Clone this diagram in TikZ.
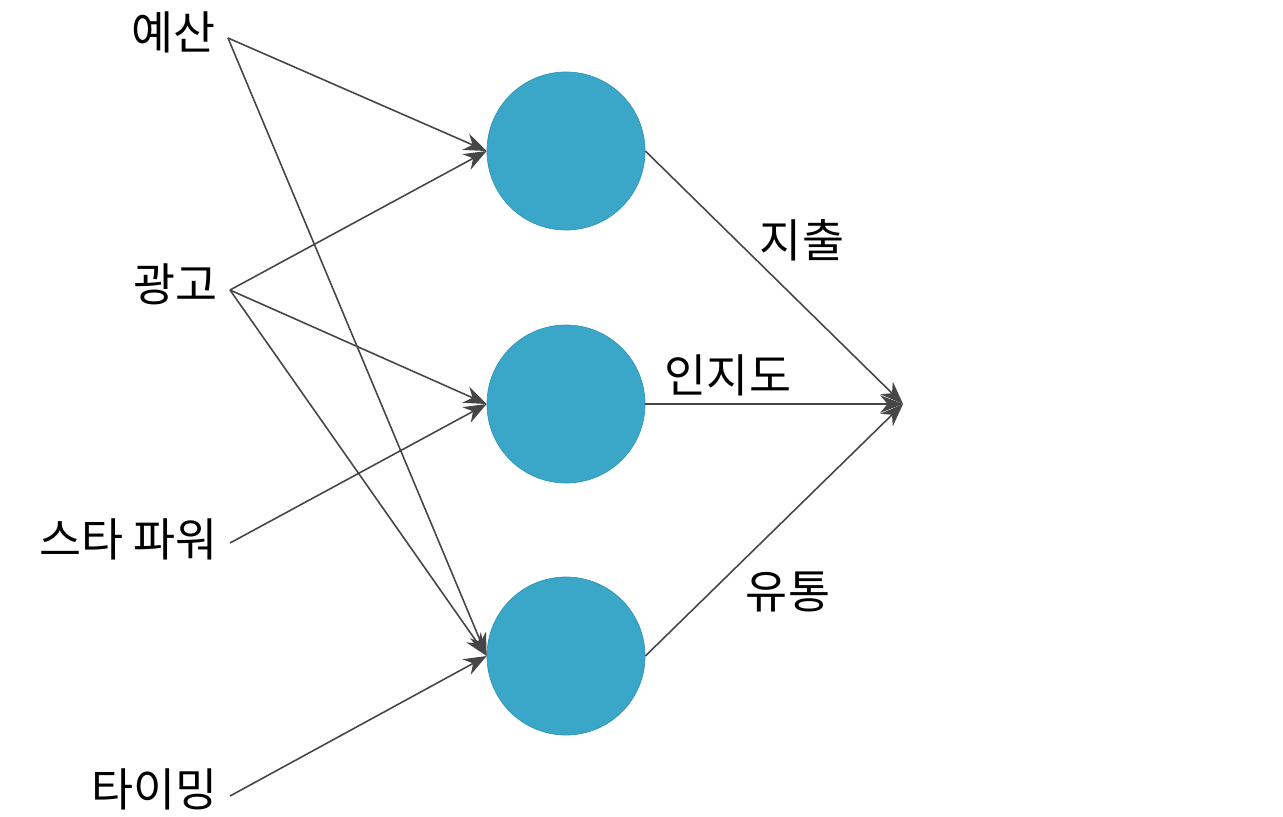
\documentclass[tikz,border=0pt]{standalone}
\usepackage{fontspec}
\setmainfont{Noto Sans CJK KR}
\usetikzlibrary{arrows.meta}
\begin{document}
\begin{tikzpicture}[x=0.02cm,y=-0.02cm,
  hub/.style={circle,fill={rgb,255:red,58;green,166;blue,200},draw={rgb,255:red,50;green,150;blue,185},minimum size=158*0.02cm,inner sep=0},
  edge/.style={draw={rgb,255:red,70;green,70;blue,70},line width=0.9pt,-{Stealth[length=13pt,width=10pt]}},
  lbl/.style={font=\fontsize{26}{30}\selectfont,anchor=east,inner sep=0},
  elbl/.style={font=\fontsize{26}{30}\selectfont,inner sep=0}]
\useasboundingbox (0,0) rectangle (1283,816);
\node[hub] (c1) at (566,151) {};
\node[hub] (c2) at (566,404) {};
\node[hub] (c3) at (566,656) {};
\coordinate (a) at (228,38);
\coordinate (b) at (230,290);
\coordinate (s) at (230,543);
\coordinate (t) at (230,796);
\coordinate (o) at (903,404);
\node[lbl] (la) at (216,32) {예산};
\node[lbl] (lb) at (218,284) {광고};
\node[lbl] (ls) at (218,539) {스타 파워};
\node[lbl] (lt) at (218,789) {타이밍};
\draw[edge] (a) -- (c1.west);
\draw[edge] (a) -- (c3.west);
\draw[edge] (b) -- (c1.west);
\draw[edge] (b) -- (c2.west);
\draw[edge] (b) -- (c3.west);
\draw[edge] (s) -- (c2.west);
\draw[edge] (t) -- (c3.west);
\draw[edge] (c1.east) -- (o);
\draw[edge] (c2.east) -- (o);
\draw[edge] (c3.east) -- (o);
\node[elbl] (e1) at (802,240) {지출};
\node[elbl] (e2) at (728,375) {인지도};
\node[elbl] (e3) at (788,592) {유통};
\end{tikzpicture}
\end{document}
